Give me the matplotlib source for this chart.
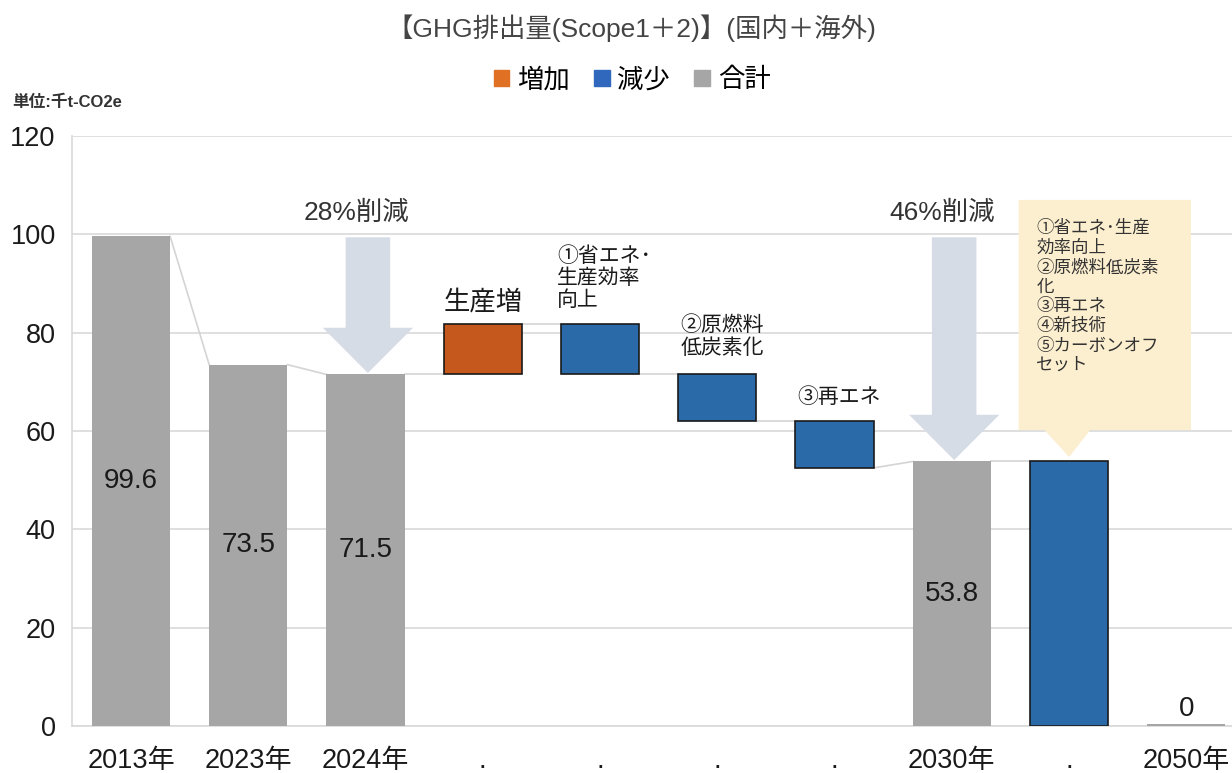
import matplotlib.pyplot as plt
from matplotlib.patches import Patch, Polygon

plt.rcParams['font.family'] = ['Liberation Sans', 'Noto Sans CJK JP', 'DejaVu Sans']

# data (千t-CO2e)
categories = ['2013年', '2023年', '2024年', '.', '.', '.', '.', '2030年', '.', '2050年']
kinds = ['total', 'total', 'total', 'inc', 'dec', 'dec', 'dec', 'total', 'dec', 'total']
values = [99.6, 73.5, 71.5, 10.3, -10.3, -9.5, -9.5, 53.8, -53.8, 0]
step_notes = {3: '生産増', 4: '①省エネ･\n生産効率\n向上', 5: '②原燃料\n低炭素化', 6: '③再エネ'}
cut_notes = {2: '28%削減', 7: '46%削減'}
measures = '①省エネ･生産\n効率向上\n②原燃料低炭素\n化\n③再エネ\n④新技術\n⑤カーボンオフ\nセット'

colors = {'inc': '#c4581d', 'dec': '#2a6aa8', 'total': '#a6a6a6'}
legend_colors = {'増加': '#e07024', '減少': '#2f68bd', '合計': '#a6a6a6'}
W = 0.667

# waterfall geometry
bottoms, heights, entry, exit_ = [], [], [], []
level = 0
for v, k in zip(values, kinds):
    if k == 'total':
        bottoms.append(0)
        heights.append(v)
        entry.append(v)
        exit_.append(v)
        level = v
    else:
        new = level + v
        bottoms.append(min(level, new))
        heights.append(abs(v))
        entry.append(level)
        exit_.append(new)
        level = new

fig = plt.figure(figsize=(12.32, 7.73), dpi=100)
ax = fig.add_axes([72.4 / 1232, 47 / 773, 1172.6 / 1232, 590 / 773])

x = range(len(categories))
for i in x:
    k = kinds[i]
    if k == 'total':
        h = heights[i] if heights[i] > 0 else 0.5
        ax.bar(i, h, width=W, bottom=0, color=colors[k], zorder=3)
    else:
        ax.bar(i, heights[i], width=W, bottom=bottoms[i], color=colors[k],
               edgecolor='#1a1a1a', linewidth=1.2, zorder=3)

# connectors
for i in range(len(categories) - 1):
    ax.plot([i + W / 2, i + 1 - W / 2], [exit_[i], entry[i + 1]],
            color='#d4d4d4', lw=1.2, zorder=2)

# value labels on totals
for i in x:
    if kinds[i] == 'total':
        if values[i] > 0:
            ax.text(i, values[i] / 2, f'{values[i]:.1f}', ha='center', va='center',
                    fontsize=20, color='#1a1a1a', zorder=4)
        else:
            ax.text(i, 0.9, '0', ha='center', va='bottom', fontsize=20,
                    color='#1a1a1a', zorder=4)

# step notes
ax.text(3, 86.2, step_notes[3], ha='center', va='center', fontsize=19, color='#1a1a1a')
ax.text(4 - 0.365, 91.1, step_notes[4], ha='left', va='center', fontsize=15,
        linespacing=1.18, color='#1a1a1a')
ax.text(5 - 0.316, 79.2, step_notes[5], ha='left', va='center', fontsize=15,
        linespacing=1.18, color='#1a1a1a')
ax.text(6 - 0.32, 66.9, step_notes[6], ha='left', va='center', fontsize=15,
        color='#1a1a1a')

# big reduction arrows
for i, txt in cut_notes.items():
    tip = values[i] + 0.3
    top = values[0] - 0.2
    head = tip + 9.2
    sw, hw = 0.19, 0.385
    cx = i + 0.02
    pts = [(cx - sw, top), (cx + sw, top), (cx + sw, head), (cx + hw, head),
           (cx, tip), (cx - hw, head), (cx - sw, head)]
    ax.add_patch(Polygon(pts, closed=True, facecolor='#d6dce6', edgecolor='none', zorder=2.5))
    ax.text(i - 0.08, 104.3, txt, ha='center', va='center', fontsize=19, color='#333333')

# callout box for 2050 measures
j = 8
bl, br, bb, bt = j - 0.43, j + 1.04, 60.2, 107
tip = values[7] + 0.9
box = [(bl, bt), (br, bt), (br, bb), (j + 0.18, bb), (j, tip), (j - 0.21, bb), (bl, bb)]
ax.add_patch(Polygon(box, closed=True, facecolor='#fcefcf', edgecolor='none', zorder=2.5))
ax.text(j - 0.28, 103.0, measures, ha='left', va='top', fontsize=12.6,
        linespacing=1.27, color='#333333', zorder=4)

ax.set_xlim(-0.5, len(categories) - 0.5)
ax.set_ylim(0, 120)
ax.set_yticks(range(0, 121, 20))
ax.set_xticks(list(x))
ax.set_xticklabels(categories)
ax.tick_params(axis='both', length=0, labelsize=19.5, colors='#1a1a1a')
ax.tick_params(axis='y', pad=12)
ax.tick_params(axis='x', pad=16)
ax.grid(axis='y', color='#d9d9d9', lw=1.2, zorder=0)
ax.set_axisbelow(True)
for s in ['top', 'right']:
    ax.spines[s].set_visible(False)
for s in ['bottom', 'left']:
    ax.spines[s].set_color('#d9d9d9')
    ax.spines[s].set_linewidth(1.2)

fig.text(631 / 1232, 1 - 28 / 773, '【GHG排出量(Scope1＋2)】(国内＋海外)', ha='center', va='center',
         fontsize=19, color='#444444')
handles = [Patch(color=c, label=l) for l, c in legend_colors.items()]
fig.legend(handles=handles, loc='center', bbox_to_anchor=(632 / 1232, 1 - 80 / 773),
           ncol=3, frameon=False, fontsize=19, handlelength=0.6, handleheight=0.6,
           handletextpad=0.3, columnspacing=0.9)
fig.text(12 / 1232, 1 - 102 / 773, '単位:千t-CO2e', ha='left', va='center',
         fontsize=12, fontweight='bold', color='#333333')

fig.savefig('out.png', dpi=100)
